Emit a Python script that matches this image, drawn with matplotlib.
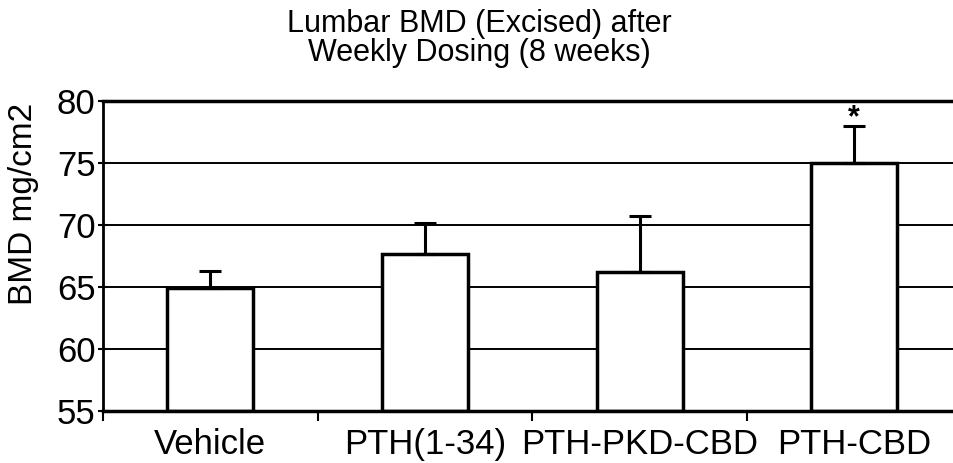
import matplotlib.pyplot as plt
import numpy as np

groups = ["Vehicle", "PTH(1-34)", "PTH-PKD-CBD", "PTH-CBD"]
bmd = [64.9, 67.7, 66.2, 75.0]
err_up = [1.4, 2.5, 4.5, 3.0]
stars = ["", "", "", "*"]

plt.rcParams['font.family'] = ['Liberation Sans', 'DejaVu Sans']

fig = plt.figure(figsize=(9.54, 4.63), dpi=100)
ax = fig.add_axes([0.108, 0.112, 0.9, 0.67])

x = np.arange(len(groups))
ax.set_axisbelow(True)
ax.yaxis.grid(True, color='black', linewidth=1.4)
ax.bar(x, [v - 55 for v in bmd], bottom=55, width=0.4, color='white',
       edgecolor='black', linewidth=2.5, zorder=2)
ax.errorbar(x, bmd, yerr=[[0] * len(bmd), err_up], fmt='none', ecolor='black',
            elinewidth=2.2, capsize=8, capthick=2.2, zorder=3)
for xi, v, e, s in zip(x, bmd, err_up, stars):
    if s:
        ax.text(xi, v + e, s, ha='center', va='baseline', fontsize=22,
                fontweight='bold')

ax.set_xlim(-0.5, 3.5)
ax.set_ylim(55, 80)
ax.set_yticks([55, 60, 65, 70, 75, 80])
ax.set_xticks(x)
ax.set_xticklabels(groups, fontsize=25)
ax.set_xticks([-0.5, 0.5, 1.5, 2.5, 3.5], minor=True)
ax.tick_params(axis='x', which='major', length=0, pad=12)
ax.tick_params(axis='x', which='minor', length=7, width=1.5)
ax.tick_params(axis='y', labelsize=25, length=7, width=1.5, pad=2,
               direction='inout')
ax.set_ylabel("BMD mg/cm2", fontsize=24)
ax.yaxis.set_label_coords(-0.075, 0.668)

ax.spines['right'].set_visible(False)
ax.spines['top'].set_linewidth(2.5)
ax.spines['left'].set_linewidth(2)
ax.spines['bottom'].set_linewidth(2.5)

fig.text(0.503, 0.981, "Lumbar BMD (Excised) after\nWeekly Dosing (8 weeks)",
         fontsize=22, ha='center', va='top', linespacing=0.95)

fig.savefig("out.png", dpi=100)
